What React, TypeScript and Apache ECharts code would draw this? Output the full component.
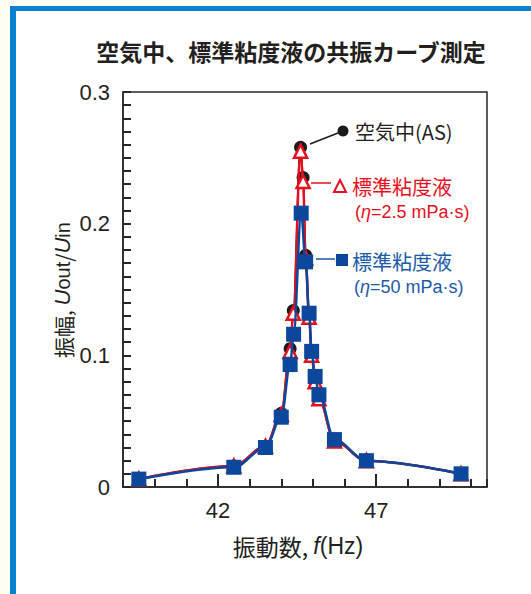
import React, { useEffect, useRef } from "react";
import * as echarts from "echarts";

// ---- data ----
const airFreq = [39.5, 42.5, 43.5, 44.0, 44.28, 44.38, 44.61, 44.69, 44.77, 44.88, 44.96, 45.07, 45.19, 45.68, 46.69, 49.68];
const airAmp = [0.006, 0.016, 0.031, 0.056, 0.105, 0.134, 0.258, 0.235, 0.176, 0.129, 0.1, 0.08, 0.067, 0.035, 0.02, 0.01];

const lowViscFreq = [39.5, 42.5, 43.5, 44.0, 44.28, 44.38, 44.61, 44.69, 44.77, 44.88, 44.96, 45.07, 45.19, 45.68, 46.69, 49.68];
const lowViscAmp = [0.006, 0.016, 0.031, 0.055, 0.103, 0.132, 0.255, 0.232, 0.174, 0.129, 0.1, 0.08, 0.067, 0.035, 0.02, 0.01];

const highViscFreq = [39.5, 42.5, 43.5, 44.0, 44.28, 44.39, 44.63, 44.77, 44.88, 44.96, 45.07, 45.19, 45.68, 46.69, 49.68];
const highViscAmp = [0.006, 0.015, 0.03, 0.053, 0.093, 0.116, 0.208, 0.171, 0.132, 0.103, 0.084, 0.07, 0.036, 0.02, 0.01];

const xTickLabels = [42, 47];
const yTickLabels = [0, 0.1, 0.2, 0.3];

const titleText = "空気中、標準粘度液の共振カーブ測定";
const airLabel = "空気中(AS)";
const liquidLabel = "標準粘度液";
const lowViscValue = "=2.5 mPa·s)";
const highViscValue = "=50 mPa·s)";

const BLACK = "#1d1a1a";
const RED = "#e60f1e";
const BLUE = "#0b479b";
const BLUE_TEXT = "#1a5aa8";
const AXIS = "#2a2626";
const TEXT = "#231f20";
const JP = '"Noto Sans CJK JP", "Liberation Sans", sans-serif';
const LAT = '"Liberation Sans", "Noto Sans CJK JP", sans-serif';

const zip = (xs: number[], ys: number[]) => xs.map((x, i) => [x, ys[i]]);

export default function App() {
  const ref = useRef<HTMLDivElement>(null);
  useEffect(() => {
    const chart = echarts.init(ref.current!, null, { renderer: "svg" });
    chart.setOption({
      animation: false,
      grid: {
        left: 123,
        top: 92,
        width: 364,
        height: 395,
        show: true,
        borderColor: AXIS,
        borderWidth: 1.5,
        backgroundColor: "transparent",
      },
      xAxis: [
        {
          type: "value",
          min: 39,
          max: 50.5,
          interval: 1,
          position: "bottom",
          axisLine: { show: true, lineStyle: { color: AXIS, width: 1.5 } },
          axisTick: { show: true, inside: true, length: 8, lineStyle: { color: AXIS, width: 2 } },
          axisLabel: {
            customValues: xTickLabels,
            margin: 12,
            fontSize: 22,
            color: TEXT,
            fontFamily: LAT,
          },
          splitLine: { show: false },
        },
        {
          type: "value",
          min: 39,
          max: 50.5,
          position: "bottom",
          axisLine: { show: false },
          axisTick: { show: true, inside: true, length: 13, customValues: xTickLabels, lineStyle: { color: AXIS, width: 2 } },
          axisLabel: { show: false },
          splitLine: { show: false },
        },
      ],
      yAxis: {
        type: "value",
        min: 0,
        max: 0.3,
        interval: 0.1,
        axisLine: { show: true, lineStyle: { color: AXIS, width: 1.5 } },
        axisTick: { show: true, inside: true, length: 8, lineStyle: { color: AXIS, width: 2 } },
        minorTick: { show: true, splitNumber: 10, length: 8, lineStyle: { color: AXIS, width: 2 } },
        axisLabel: {
          customValues: yTickLabels,
          margin: 13,
          fontSize: 22,
          color: TEXT,
          fontFamily: LAT,
        },
        splitLine: { show: false },
        minorSplitLine: { show: false },
      },
      series: [
        {
          name: "air",
          type: "line",
          xAxisIndex: 0,
          data: zip(airFreq, airAmp),
          smooth: 0.35,
          smoothMonotone: "x",
          symbol: "circle",
          symbolSize: 13,
          itemStyle: { color: BLACK },
          lineStyle: { color: BLACK, width: 2 },
          z: 2,
        },
        {
          name: "2.5",
          type: "line",
          xAxisIndex: 0,
          data: zip(lowViscFreq, lowViscAmp),
          smooth: 0.35,
          smoothMonotone: "x",
          symbol: "triangle",
          symbolSize: 13,
          itemStyle: { color: "#ffffff", borderColor: RED, borderWidth: 2.5 },
          lineStyle: { color: RED, width: 2.5 },
          z: 3,
        },
        {
          name: "50",
          type: "line",
          xAxisIndex: 0,
          data: zip(highViscFreq, highViscAmp),
          smooth: 0.35,
          smoothMonotone: "x",
          symbol: "rect",
          symbolSize: 15,
          itemStyle: { color: BLUE },
          lineStyle: { color: BLUE, width: 2.5 },
          z: 4,
        },
      ],
      graphic: [
        {
          type: "text",
          x: 291,
          y: 51,
          style: {
            text: titleText,
            align: "center",
            verticalAlign: "middle",
            fontSize: 23,
            fontWeight: "bold",
            fontFamily: JP,
            fill: TEXT,
          },
        },
        // y axis name
        {
          type: "text",
          x: 62,
          y: 290,
          rotation: Math.PI / 2,
          style: {
            text: "{a|振幅, }{u|U}{s|out}{a|/}{u|U}{s|in}",
            align: "center",
            verticalAlign: "middle",
            rich: {
              a: { fontSize: 21, fontFamily: JP, fill: TEXT, verticalAlign: "bottom" },
              u: { fontSize: 22, fontFamily: LAT, fontStyle: "italic", fill: TEXT, verticalAlign: "bottom" },
              s: { fontSize: 20, fontFamily: LAT, fill: TEXT, verticalAlign: "bottom" },
            },
          },
        },
        // x axis name
        {
          type: "text",
          x: 298,
          y: 546,
          style: {
            text: "{a|振動数, }{f|f}{b|(Hz)}",
            align: "center",
            verticalAlign: "middle",
            rich: {
              a: { fontSize: 23, fontFamily: JP, fill: TEXT },
              f: { fontSize: 23, fontFamily: LAT, fontStyle: "italic", fill: TEXT },
              b: { fontSize: 23, fontFamily: LAT, fill: TEXT },
            },
          },
        },
        // legend: air
        { type: "line", shape: { x1: 310, y1: 144, x2: 338, y2: 133 }, style: { stroke: BLACK, lineWidth: 1.5 } },
        { type: "circle", shape: { cx: 343, cy: 131, r: 5.5 }, style: { fill: BLACK } },
        {
          type: "text",
          x: 355,
          y: 131,
          style: { text: airLabel, verticalAlign: "middle", fontSize: 20, fontFamily: JP, fill: TEXT },
        },
        // legend: 2.5 mPa s
        { type: "line", shape: { x1: 311, y1: 183, x2: 331, y2: 183 }, style: { stroke: RED, lineWidth: 1.5 } },
        {
          type: "polygon",
          shape: { points: [[334, 192], [346, 192], [340, 180]] },
          style: { fill: "#ffffff", stroke: RED, lineWidth: 2 },
        },
        {
          type: "text",
          x: 352,
          y: 186,
          style: { text: liquidLabel, verticalAlign: "middle", fontSize: 20, fontFamily: JP, fill: RED },
        },
        {
          type: "text",
          x: 355,
          y: 212,
          style: {
            text: "{a|(}{i|η}{a|" + lowViscValue + "}",
            verticalAlign: "middle",
            rich: {
              a: { fontSize: 18, fontFamily: LAT, fill: RED },
              i: { fontSize: 18, fontFamily: LAT, fontStyle: "italic", fill: RED },
            },
          },
        },
        // legend: 50 mPa s
        { type: "line", shape: { x1: 316, y1: 259, x2: 335, y2: 259 }, style: { stroke: BLUE_TEXT, lineWidth: 1.5 } },
        { type: "rect", shape: { x: 336, y: 254, width: 12, height: 12 }, style: { fill: BLUE } },
        {
          type: "text",
          x: 352,
          y: 261,
          style: { text: liquidLabel, verticalAlign: "middle", fontSize: 20, fontFamily: JP, fill: BLUE_TEXT },
        },
        {
          type: "text",
          x: 354,
          y: 287,
          style: {
            text: "{a|(}{i|η}{a|" + highViscValue + "}",
            verticalAlign: "middle",
            rich: {
              a: { fontSize: 18, fontFamily: LAT, fill: BLUE_TEXT },
              i: { fontSize: 18, fontFamily: LAT, fontStyle: "italic", fill: BLUE_TEXT },
            },
          },
        },
      ],
    });
    return () => chart.dispose();
  }, []);

  return (
    <div
      style={{
        position: "fixed",
        left: 0,
        top: 0,
        width: 531,
        height: 594,
        background: "#fdfdf1",
        overflow: "hidden",
      }}
    >
      <div
        style={{
          position: "absolute",
          left: 10,
          top: 6,
          right: 0,
          bottom: 0,
          background: "#ffffff",
          borderTop: "5px solid #0880d0",
          borderLeft: "6px solid #0880d0",
        }}
      />
      <div ref={ref} style={{ position: "absolute", left: 0, top: 0, width: 531, height: 594 }} />
    </div>
  );
}
